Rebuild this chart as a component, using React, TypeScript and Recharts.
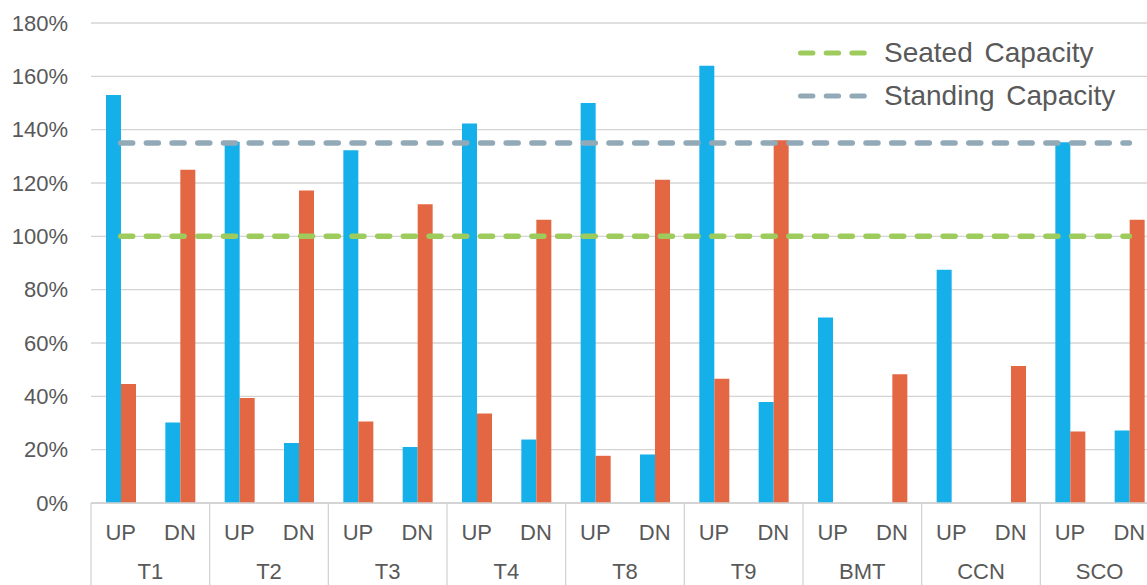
import React from 'react';
import { ComposedChart, Bar, Line, XAxis, YAxis, CartesianGrid, Legend } from 'recharts';

const GROUPS = ['T1', 'T2', 'T3', 'T4', 'T8', 'T9', 'BMT', 'CCN', 'SCO'];
const DIRECTIONS = ['UP', 'DN'];
// order: T1 UP, T1 DN, T2 UP, T2 DN, ...
const BLUE_VALUES: (number | null)[] = [153, 30.2, 135.5, 22.5, 132.3, 21, 142.3, 23.8, 150, 18.2, 164, 37.9, 69.6, null, 87.5, null, 135.3, 27.2];
const ORANGE_VALUES: (number | null)[] = [44.6, 125, 39.4, 117.2, 30.6, 112, 33.6, 106.2, 17.7, 121.2, 46.6, 136, null, 48.3, null, 51.4, 26.8, 106.2];
const SEATED_CAPACITY = [100, 100, 100, 100, 100, 100, 100, 100, 100, 100, 100, 100, 100, 100, 100, 100, 100, 100];
const STANDING_CAPACITY = [135, 135, 135, 135, 135, 135, 135, 135, 135, 135, 135, 135, 135, 135, 135, 135, 135, 135];
const Y_TICKS = [0, 20, 40, 60, 80, 100, 120, 140, 160, 180];

const BLUE = '#15B0EA';
const ORANGE = '#E46743';
const GREEN = '#9DCB5C';
const GREYBLUE = '#92A9B8';
const TEXT = '#595959';
const FONT = '"Liberation Sans", Arial, sans-serif';

const LEGEND_ITEMS = [
  { label: 'Seated Capacity', color: GREEN },
  { label: 'Standing Capacity', color: GREYBLUE },
];

const data = GROUPS.flatMap((g, gi) =>
  DIRECTIONS.map((d, di) => {
    const i = gi * DIRECTIONS.length + di;
    return {
      id: `${g}|${d}`,
      blue: BLUE_VALUES[i],
      orange: ORANGE_VALUES[i],
      seated: SEATED_CAPACITY[i],
      standing: STANDING_CAPACITY[i],
    };
  })
);

const XTick = (props: any) => {
  const { x, y, payload } = props;
  const half = payload && typeof payload.offset === 'number' && payload.offset > 0 ? payload.offset : 29.65;
  const [group, dir] = String(payload.value).split('|');
  const isFirst = dir === DIRECTIONS[0];
  const isLastOverall = group === GROUPS[GROUPS.length - 1] && dir === DIRECTIONS[DIRECTIONS.length - 1];
  return (
    <g>
      <text x={x} y={y + 37} textAnchor="middle" fill={TEXT} fontSize={22} fontFamily={FONT}>
        {dir}
      </text>
      {isFirst && (
        <>
          <line x1={x - half} x2={x - half} y1={y} y2={y + 90} stroke="#D0D0D0" strokeWidth={1.2} />
          <text x={x + half} y={y + 76} textAnchor="middle" fill={TEXT} fontSize={22} fontFamily={FONT}>
            {group}
          </text>
        </>
      )}
      {isLastOverall && <line x1={x + half} x2={x + half} y1={y} y2={y + 90} stroke="#D0D0D0" strokeWidth={1.2} />}
    </g>
  );
};

const LegendContent = () => (
  <div style={{ fontFamily: FONT, color: TEXT }}>
    {LEGEND_ITEMS.map((it) => (
      <div key={it.label} style={{ display: 'flex', alignItems: 'center', height: 43 }}>
        <svg width={74} height={10} style={{ marginRight: 14 }}>
          <line x1={4.5} x2={69.5} y1={5} y2={5} stroke={it.color} strokeWidth={5} strokeLinecap="round" strokeDasharray="12.4 13.3" />
        </svg>
        <span style={{ fontSize: 28, whiteSpace: 'nowrap', wordSpacing: 4 }}>{it.label}</span>
      </div>
    ))}
  </div>
);

export default function App() {
  return (
    <div style={{ position: 'absolute', left: 0, top: 0, width: 1147, height: 585, overflow: 'hidden', background: '#fff' }}>
      <ComposedChart width={1159} height={585} data={data} margin={{ top: 23, right: 0, bottom: 0, left: 0 }} barGap={0} barSize={15}>
        <CartesianGrid vertical={false} stroke="#D4D4D4" strokeWidth={1.4} />
        <XAxis
          dataKey="id"
          height={82}
          interval={0}
          tickLine={false}
          tickSize={0}
          tickMargin={0}
          axisLine={{ stroke: '#D0D0D0', strokeWidth: 1.4 }}
          tick={<XTick />}
        />
        <YAxis
          width={91}
          domain={[0, 180]}
          ticks={Y_TICKS}
          interval={0}
          axisLine={false}
          tickLine={false}
          tickSize={0}
          tickMargin={23}
          tickFormatter={(v: number) => `${v}%`}
          tick={{ fill: TEXT, fontSize: 22, fontFamily: FONT }}
        />
        <Bar dataKey="blue" name="UP-direction load" fill={BLUE} isAnimationActive={false} />
        <Bar dataKey="orange" name="DN-direction load" fill={ORANGE} isAnimationActive={false} />
        <Line dataKey="seated" name="Seated Capacity" stroke={GREEN} strokeWidth={5.5} strokeLinecap="round" strokeDasharray="12 13.7" dot={false} activeDot={false} isAnimationActive={false} />
        <Line dataKey="standing" name="Standing Capacity" stroke={GREYBLUE} strokeWidth={5.5} strokeLinecap="round" strokeDasharray="12 13.7" dot={false} activeDot={false} isAnimationActive={false} />
        <Legend
          layout="horizontal"
          verticalAlign="middle"
          align="center"
          wrapperStyle={{ top: 31, left: 796, width: 360, height: 'auto' }}
          content={<LegendContent />}
        />
      </ComposedChart>
    </div>
  );
}
